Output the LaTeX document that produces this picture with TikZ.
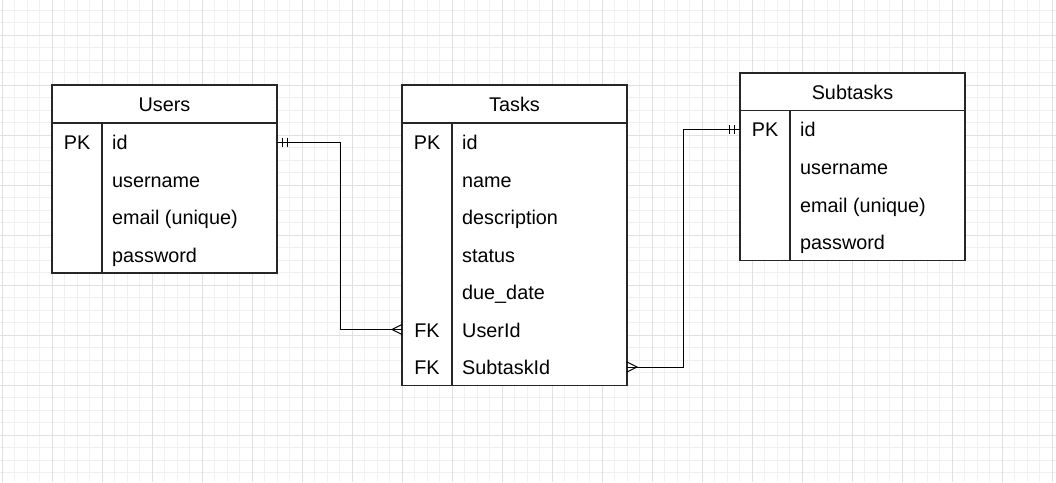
\documentclass[tikz,border=0pt]{standalone}
\usepackage{fontspec}
\setmainfont{Liberation Sans}
\begin{document}
\begin{tikzpicture}[x=1pt,y=-1pt,
  gminor/.style={draw=black!6,line width=0.7pt},
  gmajor/.style={draw=black!12,line width=0.8pt},
  tbl/.style={draw=black!85,line width=1.3pt},
  conn/.style={draw=black,line width=1pt},
  txt/.style={font=\fontsize{19.8}{22}\selectfont,anchor=base west,inner sep=0pt,text=black},
  htxt/.style={font=\fontsize{19.8}{22}\selectfont,anchor=base,inner sep=0pt,text=black}]
\useasboundingbox (0,0) rectangle (1056,482);
\fill[white] (0,0) rectangle (1056,482);
% grid
\foreach \i in {0,...,85} {\path[gminor] (2+12.5*\i,0) -- (2+12.5*\i,482);}
\foreach \i in {0,...,39} {\path[gminor] (0,10+12.5*\i) -- (1056,10+12.5*\i);}
\foreach \i in {0,...,21} {\path[gmajor] (2+50*\i,0) -- (2+50*\i,482);}
\foreach \i in {0,...,9} {\path[gmajor] (0,35+50*\i) -- (1056,35+50*\i);}
% Users
\fill[white] (52,85) rectangle (277,273);
\path[tbl] (52,85) rectangle (277,273) (52,123) -- (277,123) (102,123) -- (102,273);
\node[htxt] (uh) at (164.5,111.5) {Users};
\node[htxt] (upk) at (77,149) {PK};
\node[txt] (u1) at (112,149) {id};
\node[txt] (u2) at (112,187) {username};
\node[txt] (u3) at (112,224) {email (unique)};
\node[txt] (u4) at (112,262) {password};
% Tasks
\fill[white] (402,85) rectangle (627,385.5);
\path[tbl] (402,85) rectangle (627,385.5) (402,123) -- (627,123) (452,123) -- (452,385.5);
\node[htxt] (th) at (514.5,111.5) {Tasks};
\node[htxt] (tpk) at (427,149) {PK};
\node[txt] (t1) at (462,149) {id};
\node[txt] (t2) at (462,187) {name};
\node[txt] (t3) at (462,224) {description};
\node[txt] (t4) at (462,262) {status};
\node[txt] (t5) at (462,299) {due\_date};
\node[htxt] (tfk1) at (427,337) {FK};
\node[txt] (t6) at (462,337) {UserId};
\node[htxt] (tfk2) at (427,374) {FK};
\node[txt] (t7) at (462,374) {SubtaskId};
% Subtasks
\fill[white] (740,73) rectangle (965,260.5);
\path[tbl] (740,73) rectangle (965,260.5) (740,110.5) -- (965,110.5) (790,110.5) -- (790,260.5);
\node[htxt] (sh) at (852.5,99.5) {Subtasks};
\node[htxt] (spk) at (765,136.5) {PK};
\node[txt] (s1) at (800,136.5) {id};
\node[txt] (s2) at (800,174) {username};
\node[txt] (s3) at (800,212) {email (unique)};
\node[txt] (s4) at (800,249) {password};
% connector anchors
\coordinate (uidR) at (277,142);
\coordinate (tuidL) at (402,329.5);
\coordinate (tsubR) at (627,367);
\coordinate (sidL) at (740,129.5);
% connector 1: Users.id -> Tasks.UserId
\path[conn] (uidR) -- (340,142) -- (340,329.5) -- (tuidL);
\path[conn] (282,137.5) -- (282,146.5) (287,137.5) -- (287,146.5);
\path[conn] (402,324.5) -- (392,329.5) -- (402,334.5);
% connector 2: Tasks.SubtaskId -> Subtasks.id
\path[conn] (tsubR) -- (683,367) -- (683,129.5) -- (sidL);
\path[conn] (729.5,125) -- (729.5,134) (734,125) -- (734,134);
\path[conn] (627,362) -- (637,367) -- (627,372);
\end{tikzpicture}
\end{document}
